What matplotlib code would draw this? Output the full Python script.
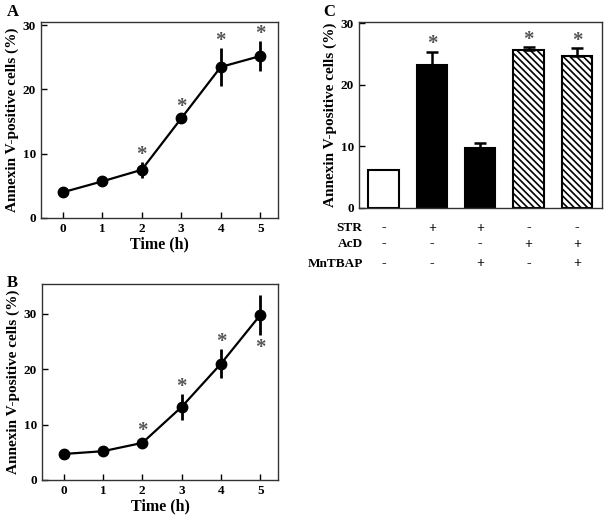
import numpy as np
import matplotlib
matplotlib.use('Agg')
import matplotlib.pyplot as plt

plt.rcParams['font.family'] = 'Liberation Serif'
plt.rcParams['font.weight'] = 'bold'
plt.rcParams['hatch.linewidth'] = 1.2

# Panel A: time course
time_a = [0, 1, 2, 3, 4, 5]
mean_a = [4.0, 5.7, 7.5, 15.5, 23.5, 25.2]
err_a = [0.4, 0.5, 1.2, 0.6, 3.0, 2.4]
star_a = [False, False, True, True, True, True]

# Panel B: time course
time_b = [0, 1, 2, 3, 4, 5]
mean_b = [4.7, 5.2, 6.7, 13.2, 21.0, 29.8]
err_b = [0.4, 0.3, 0.8, 2.3, 2.6, 3.6]
star_b = ['', '', 'up', 'up', 'up', 'down']

# Panel C: treatments
mean_c = [6.1, 23.2, 9.8, 25.7, 24.7]
err_c = [0.0, 2.2, 0.7, 0.4, 1.2]
star_c = [False, True, False, True, True]
rows_c = ['STR', 'AcD', 'MnTBAP']
signs_c = [['-', '+', '+', '-', '-'],
           ['-', '-', '-', '+', '+'],
           ['-', '-', '+', '-', '+']]

W, H = 604, 517
fig = plt.figure(figsize=(W / 100, H / 100), dpi=100)


def frac(left, top, right, bottom):
    return [left / W, 1 - bottom / H, (right - left) / W, (bottom - top) / H]


STAR_COLOR = '#555555'
STAR_SIZE = 15


def star_up(ax, x, y):
    ax.annotate('*', (x, y), xytext=(0, 1.5), textcoords='offset points',
                ha='center', va='baseline', fontsize=STAR_SIZE, color=STAR_COLOR)


def star_down(ax, x, y):
    ax.annotate('*', (x, y), xytext=(0, -13), textcoords='offset points',
                ha='center', va='baseline', fontsize=STAR_SIZE, color=STAR_COLOR)


def style_axes(ax):
    for s in ax.spines.values():
        s.set_linewidth(1.0)
        s.set_color('#333333')
    ax.tick_params(direction='in', length=4, width=1, labelsize=9.5)
    for lab in ax.get_xticklabels() + ax.get_yticklabels():
        lab.set_fontweight('bold')


def time_panel(ax, t, m, e):
    ax.errorbar(t, m, yerr=e, fmt='-o', color='black', ms=7.5, lw=1.6,
                elinewidth=2, capsize=0)
    ax.set_xlim(-0.55, 5.45)
    ax.set_xticks(t)
    ax.set_xlabel('Time (h)', fontsize=11.5, fontweight='bold', labelpad=1)
    ax.set_ylabel('Annexin V-positive cells (%)', fontsize=11, fontweight='bold', labelpad=3)
    style_axes(ax)


# A
axA = fig.add_axes(frac(41, 22, 278, 218))
time_panel(axA, time_a, mean_a, err_a)
axA.set_ylim(0, 30.5)
axA.set_yticks([0, 10, 20, 30])
for x, m, e, s in zip(time_a, mean_a, err_a, star_a):
    if s:
        star_up(axA, x, m + e)
fig.text(7 / W, 1 - 12 / H, 'A', fontsize=12, fontweight='bold', va='center')

# B
axB = fig.add_axes(frac(42, 284, 278, 480))
time_panel(axB, time_b, mean_b, err_b)
axB.set_ylim(0, 35.4)
axB.set_yticks([0, 10, 20, 30])
for x, m, e, s in zip(time_b, mean_b, err_b, star_b):
    if s == 'up':
        star_up(axB, x, m + e)
    elif s == 'down':
        star_down(axB, x, m - e)
fig.text(7 / W, 1 - 283 / H, 'B', fontsize=12, fontweight='bold', va='center')

# C
axC = fig.add_axes(frac(359, 22, 602, 208))
xc = np.arange(len(mean_c))
faces = ['white', 'black', 'black', 'white', 'white']
hatches = [None, None, None, '\\\\\\\\\\', '\\\\\\\\\\']
for x, m, e, fc, h in zip(xc, mean_c, err_c, faces, hatches):
    axC.bar(x, m, width=0.63, color=fc, edgecolor='black', linewidth=1.5, hatch=h)
    if e > 0:
        axC.errorbar(x, m, yerr=[[0], [e]], color='black', elinewidth=1.8,
                     capsize=4, capthick=1.8)
for x, m, e, s in zip(xc, mean_c, err_c, star_c):
    if s:
        star_up(axC, x, m + e)
axC.set_xlim(-0.51, 4.52)
axC.set_ylim(0, 30.2)
axC.set_yticks([0, 10, 20, 30])
axC.set_xticks([])
axC.set_ylabel('Annexin V-positive cells (%)', fontsize=11, fontweight='bold', labelpad=3)
style_axes(axC)
row_y = [-0.108, -0.194, -0.30]
trans = axC.get_xaxis_transform()
for ry, name, signs in zip(row_y, rows_c, signs_c):
    axC.text(0.015, ry, name, transform=axC.transAxes, ha='right', va='center',
             fontsize=9.5, fontweight='bold')
    for x, sg in zip(xc, signs):
        axC.text(x, ry, sg, transform=trans, ha='center', va='center',
                 fontsize=10, fontweight='bold')
fig.text(323 / W, 1 - 12 / H, 'C', fontsize=12, fontweight='bold', va='center')

fig.savefig('out.png', dpi=100)
